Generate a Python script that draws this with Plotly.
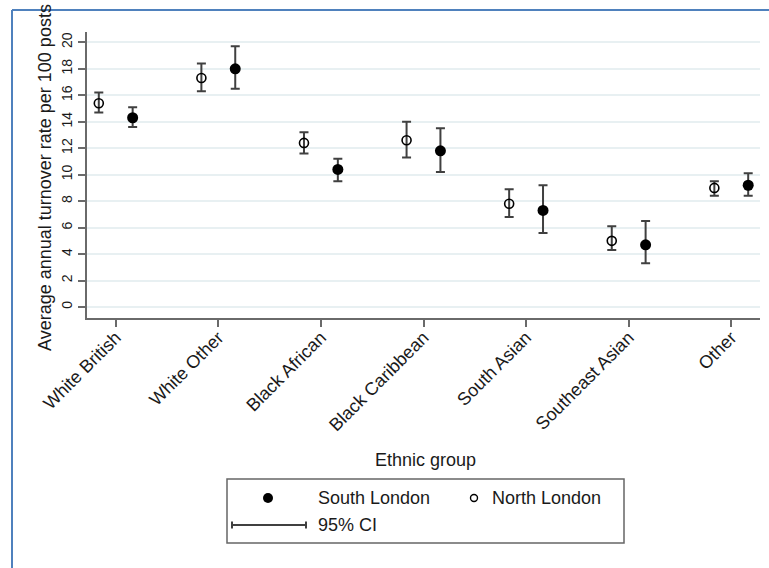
import plotly.graph_objects as go

categories = ["White British", "White Other", "Black African", "Black Caribbean",
              "South Asian", "Southeast Asian", "Other"]

south_mean = [14.3, 18.0, 10.4, 11.8, 7.3, 4.7, 9.2]
south_lo = [13.6, 16.5, 9.5, 10.2, 5.6, 3.3, 8.4]
south_hi = [15.1, 19.7, 11.2, 13.5, 9.2, 6.5, 10.1]

north_mean = [15.4, 17.3, 12.4, 12.6, 7.8, 5.0, 9.0]
north_lo = [14.7, 16.3, 11.6, 11.3, 6.8, 4.3, 8.4]
north_hi = [16.2, 18.4, 13.2, 14.0, 8.9, 6.1, 9.5]

y_ticks = list(range(0, 21, 2))

FONT = "Liberation Sans, Arial, sans-serif"
W, H = 769, 568
L, R, T, B = 87, 9, 32, 250
PW, PH = W - L - R, H - T - B


def px(x):
    return (x - L) / PW


def py(y):
    return (H - B - y) / PH


idx = list(range(len(categories)))
err_style = dict(type="data", symmetric=False, color="#404040", thickness=2, width=4.5)

fig = go.Figure()
fig.add_trace(go.Scatter(
    x=[i - 0.165 for i in idx], y=north_mean, mode="markers", name="North London",
    marker=dict(symbol="circle-open", size=9, color="black", line=dict(width=1.6, color="black")),
    error_y=dict(array=[h - m for h, m in zip(north_hi, north_mean)],
                 arrayminus=[m - l for m, l in zip(north_mean, north_lo)], **err_style),
    showlegend=False))
fig.add_trace(go.Scatter(
    x=[i + 0.165 for i in idx], y=south_mean, mode="markers", name="South London",
    marker=dict(symbol="circle", size=11, color="black"),
    error_y=dict(array=[h - m for h, m in zip(south_hi, south_mean)],
                 arrayminus=[m - l for m, l in zip(south_mean, south_lo)], **err_style),
    showlegend=False))

fig.update_layout(
    width=W, height=H, margin=dict(l=L, r=R, t=T, b=B, pad=0),
    paper_bgcolor="white", plot_bgcolor="white",
    font=dict(family=FONT, size=18, color="#1a1a1a"),
    showlegend=False,
)
fig.update_xaxes(
    range=[-0.28, 6.28], tickvals=idx, ticktext=categories, tickangle=-45,
    showgrid=False, zeroline=False, showline=True, linecolor="#6a6a6a", linewidth=2,
    ticks="outside", ticklen=7, tickwidth=2, tickcolor="#6a6a6a",
    ticklabelstandoff=-7,
    tickfont=dict(size=18, family=FONT, color="#1a1a1a"),
)
fig.update_yaxes(
    range=[-0.83, 20.78], tickvals=y_ticks, tickangle=-90,
    showgrid=True, gridcolor="#E8F0F2", gridwidth=2, zeroline=False,
    showline=True, linecolor="#6a6a6a", linewidth=2,
    ticks="outside", ticklen=7, tickwidth=2, tickcolor="#6a6a6a",
    tickfont=dict(size=14, family=FONT, color="#1a1a1a"),
)

ann = []
ann.append(dict(text="Average annual turnover rate per 100 posts", textangle=-90,
                xref="paper", yref="paper", x=px(45), y=py(178), xanchor="center", yanchor="middle",
                showarrow=False, font=dict(size=18, family=FONT, color="#1a1a1a")))
ann.append(dict(text="Ethnic group", xref="paper", yref="paper", x=px(425), y=py(460),
                xanchor="center", yanchor="middle", showarrow=False,
                font=dict(size=18, family=FONT, color="#1a1a1a")))
ann.append(dict(text="South London", xref="paper", yref="paper", x=px(316), y=py(498),
                xanchor="left", yanchor="middle", showarrow=False,
                font=dict(size=18, family=FONT, color="#1a1a1a")))
ann.append(dict(text="North London", xref="paper", yref="paper", x=px(490), y=py(498),
                xanchor="left", yanchor="middle", showarrow=False,
                font=dict(size=18, family=FONT, color="#1a1a1a")))
ann.append(dict(text="95% CI", xref="paper", yref="paper", x=px(316), y=py(525),
                xanchor="left", yanchor="middle", showarrow=False,
                font=dict(size=18, family=FONT, color="#1a1a1a")))
fig.update_layout(annotations=ann)

shapes = []
# outer frame (blue, left and top)
shapes.append(dict(type="line", xref="paper", yref="paper", x0=px(12), x1=px(12), y0=py(10), y1=py(H),
                   line=dict(color="#4F81BD", width=2)))
shapes.append(dict(type="line", xref="paper", yref="paper", x0=px(12), x1=px(W), y0=py(10), y1=py(10),
                   line=dict(color="#4F81BD", width=2)))
# legend box
shapes.append(dict(type="rect", xref="paper", yref="paper", x0=px(227), x1=px(624), y0=py(479), y1=py(543),
                   line=dict(color="#666666", width=1.5), fillcolor="rgba(0,0,0,0)"))
# legend keys
shapes.append(dict(type="circle", xref="paper", yref="paper", xsizemode="pixel", ysizemode="pixel",
                   xanchor=px(268), yanchor=py(498), x0=-5, x1=5, y0=-5, y1=5,
                   fillcolor="black", line=dict(color="black", width=0)))
shapes.append(dict(type="circle", xref="paper", yref="paper", xsizemode="pixel", ysizemode="pixel",
                   xanchor=px(474), yanchor=py(498), x0=-3.5, x1=3.5, y0=-3.5, y1=3.5,
                   fillcolor="white", line=dict(color="black", width=1.4)))
shapes.append(dict(type="line", xref="paper", yref="paper", x0=px(232), x1=px(306), y0=py(525), y1=py(525),
                   line=dict(color="#404040", width=2)))
for xc in (232, 306):
    shapes.append(dict(type="line", xref="paper", yref="paper", x0=px(xc), x1=px(xc),
                       y0=py(521.5), y1=py(528.5), line=dict(color="#404040", width=2)))
fig.update_layout(shapes=shapes)

fig.write_html("out.html")
